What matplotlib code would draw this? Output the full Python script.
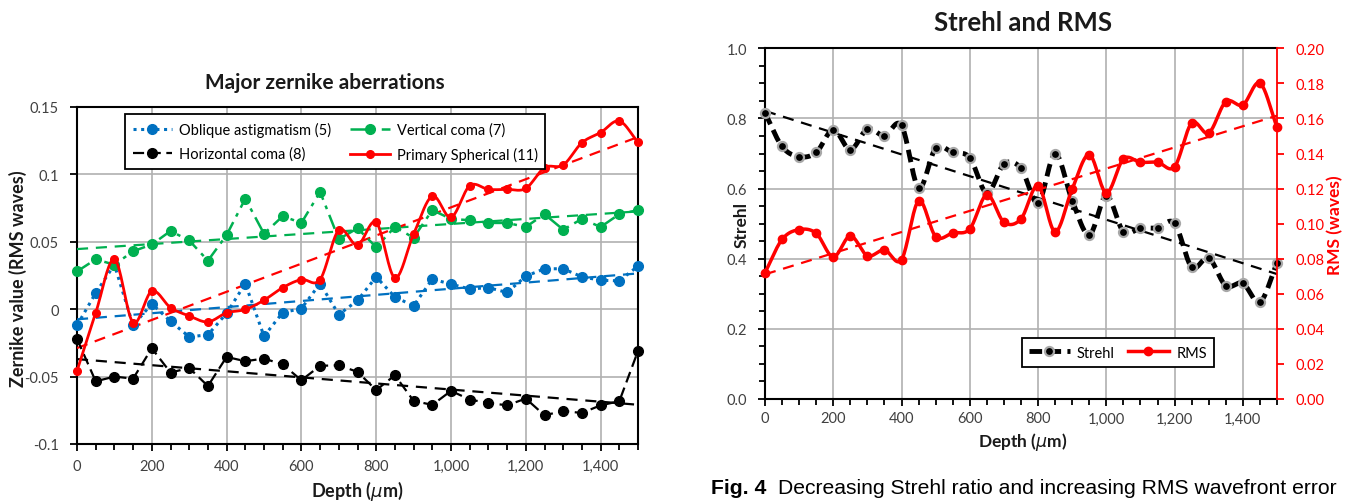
import numpy as np
import matplotlib
matplotlib.use("Agg")
import matplotlib.pyplot as plt
from matplotlib.ticker import MultipleLocator, FuncFormatter

plt.rcParams['font.family'] = ['Lato', 'DejaVu Sans']

# depth samples (um)
depth = np.arange(0, 1501, 50)

# left chart: zernike terms (RMS waves)
oblique_astig = [-0.012, 0.012, 0.033, -0.012, 0.004, -0.009, -0.0205, -0.019, -0.003, 0.019,
                 -0.020, -0.0025, 0.0005, 0.019, -0.004, 0.0065, 0.024, 0.009, 0.0025, 0.0223,
                 0.0186, 0.015, 0.016, 0.0124, 0.0245, 0.030, 0.030, 0.024, 0.0215, 0.021, 0.032]
vertical_coma = [0.028, 0.037, 0.033, 0.043, 0.048, 0.058, 0.051, 0.036, 0.055, 0.082,
                 0.056, 0.069, 0.064, 0.087, 0.052, 0.060, 0.046, 0.061, 0.053, 0.0735,
                 0.067, 0.066, 0.064, 0.064, 0.061, 0.0705, 0.059, 0.067, 0.061, 0.0705, 0.0735]
horizontal_coma = [-0.022, -0.0535, -0.050, -0.0515, -0.029, -0.047, -0.0436, -0.057, -0.0354, -0.0386,
                   -0.0366, -0.041, -0.0527, -0.042, -0.0416, -0.0465, -0.060, -0.049, -0.068, -0.071,
                   -0.0606, -0.067, -0.0696, -0.0713, -0.0663, -0.0787, -0.0755, -0.077, -0.0713, -0.0683, -0.031]
primary_spherical = [-0.0458, -0.0027, 0.037, -0.0099, 0.0134, 0.0012, -0.005, -0.0094, -0.0027, -0.0002,
                     0.0067, 0.016, 0.022, 0.022, 0.0587, 0.0475, 0.0644, 0.0233, 0.0557, 0.0839,
                     0.0681, 0.0916, 0.0889, 0.0889, 0.0896, 0.105, 0.107, 0.1235, 0.131, 0.1396, 0.1238]

# right chart
strehl = [0.816, 0.72, 0.691, 0.703, 0.768, 0.711, 0.77, 0.751, 0.78, 0.602,
          0.715, 0.703, 0.688, 0.587, 0.670, 0.658, 0.559, 0.699, 0.566, 0.468,
          0.580, 0.477, 0.487, 0.488, 0.501, 0.376, 0.402, 0.323, 0.330, 0.276, 0.388]
rms = [0.072, 0.091, 0.0966, 0.0945, 0.081, 0.093, 0.0817, 0.085, 0.0795, 0.113,
       0.0926, 0.0947, 0.097, 0.1165, 0.1008, 0.1027, 0.1217, 0.0954, 0.1198, 0.1394,
       0.1175, 0.1369, 0.135, 0.135, 0.1325, 0.1574, 0.1517, 0.1696, 0.1677, 0.1802, 0.155]

x_ticklabels = ['0', '200', '400', '600', '800', '1,000', '1,200', '1,400']


def smooth(x, y, n=20):
    # catmull-rom style curve through the points (like excel smoothed lines)
    x = np.asarray(x, float)
    y = np.asarray(y, float)
    px = np.concatenate([[2 * x[0] - x[1]], x, [2 * x[-1] - x[-2]]])
    py = np.concatenate([[2 * y[0] - y[1]], y, [2 * y[-1] - y[-2]]])
    xs, ys = [], []
    t = np.linspace(0, 1, n, endpoint=False)
    for i in range(1, len(px) - 2):
        p0, p1, p2, p3 = [np.array([px[j], py[j]]) for j in range(i - 1, i + 3)]
        m1 = (p2 - p0) / 2
        m2 = (p3 - p1) / 2
        h00 = 2 * t**3 - 3 * t**2 + 1
        h10 = t**3 - 2 * t**2 + t
        h01 = -2 * t**3 + 3 * t**2
        h11 = t**3 - t**2
        pts = np.outer(h00, p1) + np.outer(h10, m1) + np.outer(h01, p2) + np.outer(h11, m2)
        xs.extend(pts[:, 0])
        ys.extend(pts[:, 1])
    xs.append(x[-1])
    ys.append(y[-1])
    return np.array(xs), np.array(ys)


def trend(ax, y, color, lw=1.6):
    k, b = np.polyfit(depth, y, 1)
    xx = np.array([depth[0], depth[-1]])
    ax.plot(xx, k * xx + b, color=color, lw=lw, ls=(0, (5, 3.5)), zorder=4)


W, H = 1349, 502
fig = plt.figure(figsize=(W / 100, H / 100), dpi=100)

tick_col = '#404040'
blue = '#0070C0'
green = '#00B050'
red = '#FF0000'

# ---------- left chart ----------
ax1 = fig.add_axes([77 / W, 1 - 445 / H, (638 - 77) / W, (445 - 108) / H])
h_ob, = ax1.plot(depth, oblique_astig, color=blue, ls=(0, (1, 1.5)), lw=2.2, marker='o', ms=7,
                 zorder=5, clip_on=False)
h_vc, = ax1.plot(depth, vertical_coma, color=green, ls=(0, (6, 2.5, 1.5, 2.5)), lw=1.8, marker='o',
                 ms=7, zorder=5, clip_on=False)
h_hc, = ax1.plot(depth, horizontal_coma, color='black', ls=(0, (5, 2.5)), lw=1.6, marker='o', ms=7,
                 zorder=5, clip_on=False)
sx, sy = smooth(depth, primary_spherical)
ax1.plot(sx, sy, color=red, lw=2, zorder=6)
ax1.plot(depth, primary_spherical, color=red, ls='none', marker='o', ms=5.5, zorder=6, clip_on=False)
h_ps, = ax1.plot([], [], color=red, lw=2, marker='o', ms=5.5)

trend(ax1, oblique_astig, blue)
trend(ax1, vertical_coma, green)
trend(ax1, horizontal_coma, 'black')
trend(ax1, primary_spherical, red)

ax1.set_xlim(0, 1500)
ax1.set_ylim(-0.1, 0.15)
ax1.xaxis.set_minor_locator(MultipleLocator(50))
ax1.yaxis.set_major_locator(MultipleLocator(0.05))
ax1.set_xticks(np.arange(0, 1401, 200))
ax1.set_xticklabels(x_ticklabels)
ax1.yaxis.set_major_formatter(FuncFormatter(lambda v, p: '0' if abs(v) < 1e-9 else ('%g' % round(v, 2))))
ax1.grid(True, which='major', color='#b0b0b0', lw=1.2, zorder=0)
ax1.tick_params(axis='both', which='major', direction='out', length=5, width=1.3,
                labelsize=10.5, colors='black', labelcolor=tick_col, pad=8)
ax1.tick_params(axis='x', which='major', pad=6)
ax1.tick_params(axis='x', which='minor', direction='out', length=4, width=1.3)
for s in ax1.spines.values():
    s.set_color('black')
    s.set_linewidth(1.5)

leg1 = ax1.legend([h_ob, h_hc, h_vc, h_ps],
                  ['Oblique astigmatism (5)', 'Horizontal coma (8)',
                   'Vertical coma (7)', 'Primary Spherical (11)'],
                  ncol=2, loc='upper left', bbox_to_anchor=(0.073, 1.0), fontsize=10.5,
                  frameon=True, fancybox=False, edgecolor='black', framealpha=1,
                  handlelength=2.7, handletextpad=0.5, columnspacing=1.3, borderpad=0.5,
                  labelspacing=0.7)
leg1.get_frame().set_linewidth(1.3)
leg1.set_zorder(10)

fig.text(325 / W, 1 - 83 / H, 'Major zernike aberrations', ha='center', va='center',
         fontsize=15, fontweight='bold', color='#1a1a1a')
fig.text(18 / W, 1 - 279 / H, 'Zernike value (RMS waves)', ha='center', va='center',
         rotation=90, fontsize=13, fontweight='bold', color='#1a1a1a')
fig.text(357 / W, 1 - 491 / H, r'Depth ($\mu$m)', ha='center', va='center',
         fontsize=13, fontweight='bold', color='#1a1a1a')

# ---------- right chart ----------
ax2 = fig.add_axes([765 / W, 1 - 400 / H, (1277 - 765) / W, (400 - 49.3) / H])
ax3 = ax2.twinx()

ssx, ssy = smooth(depth, strehl)
ax2.plot(ssx, ssy, color='black', lw=3.5, ls=(0, (2.6, 1.3)), zorder=5)
ax2.plot(depth, strehl, ls='none', marker='o', ms=6.5, color='black', mec='#a8a8a8', mew=1.6,
         zorder=6, clip_on=False)
k, b = np.polyfit(depth, strehl, 1)
xx = np.array([0, 1500])
ax2.plot(xx, k * xx + b, color='black', lw=1.6, ls=(0, (5, 3.5)), zorder=4)

rsx, rsy = smooth(depth, rms)
ax3.plot(rsx, rsy, color=red, lw=2.5, zorder=5)
ax3.plot(depth, rms, ls='none', marker='o', ms=6, color=red, zorder=6, clip_on=False)
k, b = np.polyfit(depth, rms, 1)
ax3.plot(xx, k * xx + b, color=red, lw=1.6, ls=(0, (5, 3.5)), zorder=4)

ax2.set_xlim(0, 1500)
ax2.set_ylim(0, 1.0)
ax3.set_ylim(0, 0.2)
ax2.set_xticks(np.arange(0, 1401, 200))
ax2.set_xticklabels(x_ticklabels)
ax2.xaxis.set_minor_locator(MultipleLocator(50))
ax2.yaxis.set_major_locator(MultipleLocator(0.2))
ax2.yaxis.set_minor_locator(MultipleLocator(0.05))
ax2.yaxis.set_major_formatter(FuncFormatter(lambda v, p: '%.1f' % v))
ax3.yaxis.set_major_locator(MultipleLocator(0.02))
ax3.yaxis.set_major_formatter(FuncFormatter(lambda v, p: '%.2f' % v))
ax2.grid(True, which='major', color='#b0b0b0', lw=1.2, zorder=0)
ax2.tick_params(axis='both', which='major', direction='out', length=5, width=1.3,
                labelsize=10.5, colors='black', labelcolor=tick_col, pad=8)
ax2.tick_params(axis='x', which='major', pad=4)
ax2.tick_params(axis='both', which='minor', direction='out', length=4, width=1.3)
ax3.tick_params(axis='y', which='major', direction='out', length=5, width=1.3,
                labelsize=10.5, colors=red, labelcolor=red, pad=8)
for s in ax2.spines.values():
    s.set_color('black')
    s.set_linewidth(1.5)
for name, s in ax3.spines.items():
    s.set_visible(name == 'right')
ax3.spines['right'].set_color(red)
ax3.spines['right'].set_linewidth(1.3)
ax2.spines['right'].set_visible(False)

h_st, = ax2.plot([], [], color='black', lw=3.5, ls=(0, (2.6, 1.3)), marker='o', ms=6.5,
                 mfc='black', mec='#a8a8a8', mew=1.6)
h_rm, = ax2.plot([], [], color=red, lw=2.5, marker='o', ms=6)
leg2 = ax2.legend([h_st, h_rm], ['Strehl', 'RMS'], ncol=2, loc='upper left',
                  bbox_to_anchor=(0.487, 0.194), fontsize=10.5, frameon=True, fancybox=False,
                  edgecolor='black', framealpha=1, handlelength=2.8, handletextpad=0.5,
                  columnspacing=0.9, borderpad=0.5)
leg2.get_frame().set_linewidth(1.3)
leg2.set_zorder(10)

fig.text(1023 / W, 1 - 23 / H, 'Strehl and RMS', ha='center', va='center',
         fontsize=18.5, fontweight='bold', color='#1a1a1a')
fig.text(742 / W, 1 - 225 / H, 'Strehl', ha='center', va='center', rotation=90,
         fontsize=12.5, fontweight='bold', color='#1a1a1a')
fig.text(1335 / W, 1 - 225 / H, 'RMS (waves)', ha='center', va='center', rotation=90,
         fontsize=12.5, fontweight='bold', color=red)
fig.text(1023 / W, 1 - 442 / H, r'Depth ($\mu$m)', ha='center', va='center',
         fontsize=12.5, fontweight='bold', color='#1a1a1a')

fig.text(711 / W, 1 - 489 / H, 'Fig. 4', ha='left', va='center', fontsize=15.2,
         fontweight='bold', family='Liberation Sans')
fig.text(778 / W, 1 - 489 / H, 'Decreasing Strehl ratio and increasing RMS wavefront error',
         ha='left', va='center', fontsize=15.2, family='Liberation Sans')

fig.savefig('out.png', dpi=100)
